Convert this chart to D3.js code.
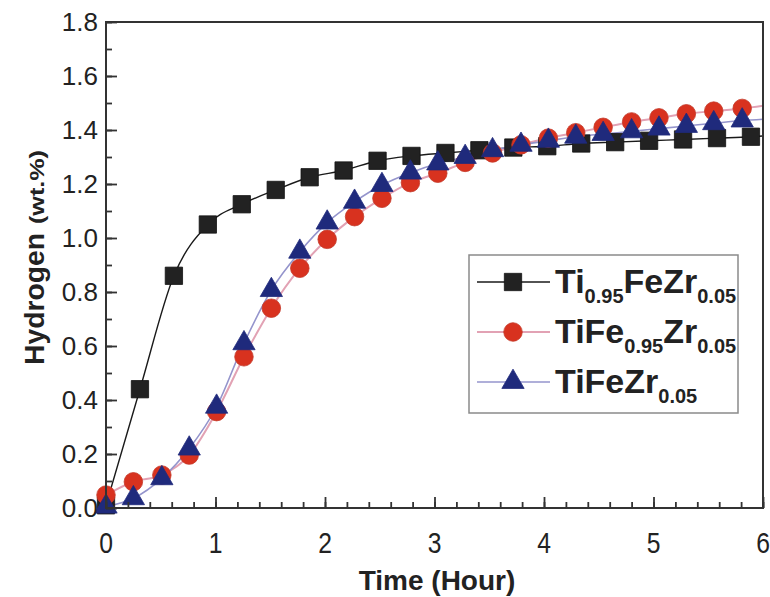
<!DOCTYPE html>
<html>
<head>
<meta charset="utf-8">
<script src="https://cdn.jsdelivr.net/npm/d3@7/dist/d3.min.js"></script>
<style>
  body { margin: 0; background: #fff; }
  text { font-family: "Liberation Sans", Arial, sans-serif; fill: #222; }
</style>
</head>
<body>
<div id="chart"></div>
<script>
// values
var blackT = [0, 0.31, 0.62, 0.93, 1.24, 1.55, 1.86, 2.17, 2.48, 2.79, 3.10, 3.41, 3.72, 4.03, 4.34, 4.65, 4.96, 5.27, 5.58, 5.89];
var blackV = [0.01, 0.44, 0.86, 1.05, 1.125, 1.178, 1.225, 1.25, 1.286, 1.304, 1.315, 1.325, 1.335, 1.34, 1.35, 1.355, 1.36, 1.365, 1.37, 1.375];

var redT = [0, 0.25, 0.51, 0.76, 1.01, 1.26, 1.51, 1.77, 2.02, 2.27, 2.52, 2.78, 3.03, 3.28, 3.53, 3.79, 4.04, 4.29, 4.54, 4.80, 5.05, 5.30, 5.55, 5.81];
var redV = [0.048, 0.097, 0.122, 0.196, 0.357, 0.56, 0.74, 0.888, 0.995, 1.079, 1.147, 1.205, 1.24, 1.28, 1.315, 1.345, 1.37, 1.39, 1.41, 1.43, 1.445, 1.46, 1.47, 1.48];

var blueT = redT;
var blueV = [0.005, 0.036, 0.11, 0.22, 0.375, 0.61, 0.807, 0.949, 1.057, 1.134, 1.196, 1.242, 1.276, 1.30, 1.325, 1.345, 1.36, 1.375, 1.385, 1.395, 1.405, 1.415, 1.425, 1.435];

// where each line ends at t = 6 (no marker there)
var lineEnd = [1.378, 1.49, 1.44];

var seriesNames = [
  [["Ti", 0], ["0.95", 1], ["FeZr", 0], ["0.05", 1]],
  [["TiFe", 0], ["0.95", 1], ["Zr", 0], ["0.05", 1]],
  [["TiFeZr", 0], ["0.05", 1]]
];

var xTicks = [0, 1, 2, 3, 4, 5, 6];
var yTicks = [0, 0.2, 0.4, 0.6, 0.8, 1.0, 1.2, 1.4, 1.6, 1.8];

var width = 770, height = 597;
var mLeft = 106, mRight = 763, mTop = 22, mBottom = 508;

var svg = d3.select("#chart").append("svg")
  .attr("width", width)
  .attr("height", height);

var x = d3.scaleLinear().domain([0, 6]).range([mLeft, mRight]);
var y = d3.scaleLinear().domain([0, 1.8]).range([mBottom, mTop]);

var styles = [
  {line: "#1a1a1a", lw: 1.4, fill: "#222", stroke: "#111", shape: d3.symbolSquare, size: 300},
  {line: "#e2a2b4", lw: 2, fill: "#d8321f", stroke: "#c43a2a", shape: d3.symbolCircle, size: 270},
  {line: "#9494cc", lw: 1.6, fill: "#1f2a7c", stroke: "#1f2a7c", shape: d3.symbolTriangle, size: 215}
];

var series = [
  d3.zip(blackT, blackV),
  d3.zip(redT, redV),
  d3.zip(blueT, blueV)
];

svg.append("clipPath").attr("id", "plot")
  .append("rect")
  .attr("x", mLeft).attr("y", mTop)
  .attr("width", mRight - mLeft).attr("height", mBottom - mTop);

var line = d3.line()
  .x(function (d) { return x(d[0]); })
  .y(function (d) { return y(d[1]); })
  .curve(d3.curveMonotoneX);

var plot = svg.append("g").attr("clip-path", "url(#plot)");

series.forEach(function (s, i) {
  plot.append("path")
    .attr("d", line(s.concat([[6, lineEnd[i]]])))
    .attr("fill", "none")
    .attr("stroke", styles[i].line)
    .attr("stroke-width", styles[i].lw);
});

series.forEach(function (s, i) {
  var st = styles[i];
  svg.append("g").selectAll("path")
    .data(s)
    .enter().append("path")
    .attr("transform", function (d) { return "translate(" + x(d[0]) + "," + y(d[1]) + ")"; })
    .attr("d", d3.symbol().type(st.shape).size(st.size))
    .attr("fill", st.fill)
    .attr("stroke", st.stroke)
    .attr("stroke-width", 0.8);
});

// frame
svg.append("rect")
  .attr("x", mLeft).attr("y", mTop)
  .attr("width", mRight - mLeft).attr("height", mBottom - mTop)
  .attr("fill", "none")
  .attr("stroke", "#333")
  .attr("stroke-width", 2);

// inward ticks
var xAxis = d3.axisBottom(x).tickValues(xTicks).tickSize(-11).tickFormat("");
var xMinor = d3.axisBottom(x).tickValues(d3.range(0, 6.01, 0.2)).tickSize(-6).tickFormat("");
var yAxis = d3.axisLeft(y).tickValues(yTicks).tickSize(-11).tickFormat("");
var yMinor = d3.axisLeft(y).tickValues(d3.range(0, 1.81, 0.1)).tickSize(-6).tickFormat("");

[[xAxis, "0," + mBottom], [xMinor, "0," + mBottom], [yAxis, mLeft + ",0"], [yMinor, mLeft + ",0"]].forEach(function (a) {
  var g = svg.append("g").attr("transform", "translate(" + a[1] + ")").call(a[0]);
  g.select(".domain").remove();
  g.selectAll("line").attr("stroke", "#333").attr("stroke-width", 1.8);
});

// tick labels (x labels in the scan are a little taller than wide)
svg.append("g").selectAll("text")
  .data(xTicks)
  .enter().append("text")
  .attr("transform", function (d) { return "translate(" + x(d) + ",553) scale(0.95,1.15)"; })
  .attr("text-anchor", "middle")
  .style("font-size", "26px")
  .text(function (d) { return d; });

svg.append("g").selectAll("text")
  .data(yTicks)
  .enter().append("text")
  .attr("x", 98)
  .attr("y", function (d) { return y(d) + 9; })
  .attr("text-anchor", "end")
  .style("font-size", "26px")
  .text(function (d) { return d.toFixed(1); });

// axis titles
svg.append("text")
  .attr("x", 437)
  .attr("y", 590)
  .attr("text-anchor", "middle")
  .style("font-size", "28px")
  .style("font-weight", "bold")
  .text("Time (Hour)");

svg.append("text")
  .attr("transform", "translate(44,365) rotate(-90)")
  .style("font-weight", "bold")
  .style("font-size", "27px")
  .attr("textLength", 132)
  .attr("lengthAdjust", "spacingAndGlyphs")
  .text("Hydrogen");
svg.append("text")
  .attr("transform", "translate(44,224) rotate(-90)")
  .style("font-weight", "bold")
  .style("font-size", "20px")
  .attr("textLength", 74)
  .attr("lengthAdjust", "spacingAndGlyphs")
  .text("(wt.%)");

// legend
svg.append("rect")
  .attr("x", 469).attr("y", 255)
  .attr("width", 269).attr("height", 158)
  .attr("fill", "#fff")
  .attr("stroke", "#8a8a8a")
  .attr("stroke-width", 1.5);

var rows = [282, 332, 382];
seriesNames.forEach(function (name, i) {
  var st = styles[i];
  var g = svg.append("g").attr("transform", "translate(0," + rows[i] + ")");
  g.append("line")
    .attr("x1", 477).attr("x2", 550)
    .attr("stroke", st.line)
    .attr("stroke-width", st.lw);
  g.append("path")
    .attr("transform", "translate(513,0)")
    .attr("d", d3.symbol().type(st.shape).size(st.size))
    .attr("fill", st.fill)
    .attr("stroke", st.stroke)
    .attr("stroke-width", 0.8);
  var t = g.append("text")
    .attr("x", 555)
    .attr("y", 11)
    .style("font-weight", "bold");
  var shifted = 0;
  name.forEach(function (p) {
    var dy = p[1] ? 10 - shifted : -shifted;
    shifted += dy;
    t.append("tspan")
      .attr("dy", dy)
      .style("font-size", p[1] ? "20px" : "34px")
      .text(p[0]);
  });
});
</script>
</body>
</html>
